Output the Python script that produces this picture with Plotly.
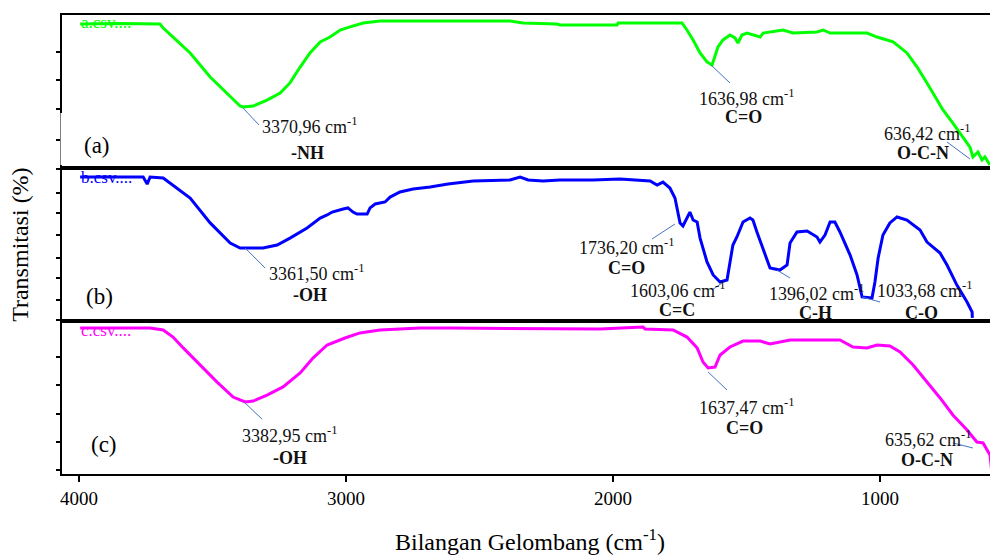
import plotly.graph_objects as go
from plotly.subplots import make_subplots

# ---- data (wavenumber cm-1, relative transmittance) ----
wn_a = [3996, 3850, 3697, 3685, 3648, 3584, 3509, 3446, 3397, 3386, 3348, 3296, 3247, 3210, 3172,
        3135, 3097, 3060, 3022, 2985, 2936, 2873, 2386, 2337, 2210, 2199, 1985, 1981, 1824, 1742,
        1723, 1700, 1674, 1648, 1629, 1607, 1588, 1562, 1543, 1532, 1517, 1498, 1449, 1438, 1363,
        1326, 1236, 1213, 1187, 1049, 1011, 951, 899, 861, 824, 787, 764, 727, 689, 663, 652, 633,
        618, 607, 588]
t_a = [94.1, 94.5, 94.1, 91.5, 85.6, 75.2, 59.5, 49.0, 40.5, 39.9, 40.5, 44.4, 49.0, 55.6, 66.0,
       75.2, 82.4, 85.6, 90.2, 92.2, 94.8, 96.1, 96.1, 94.8, 94.1, 93.5, 93.5, 94.8, 94.8, 94.8,
       90.2, 83.7, 75.2, 69.3, 67.3, 79.1, 83.7, 86.9, 85.0, 81.7, 86.9, 88.2, 85.6, 88.2, 90.2,
       88.2, 88.9, 90.2, 88.2, 88.2, 85.6, 82.4, 75.2, 66.0, 55.6, 44.4, 37.9, 29.4, 20.3, 13.7, 7.2, 10.5,
       5.2, 7.2, 2.0]

wn_b = [3996, 3760, 3745, 3734, 3685, 3648, 3584, 3509, 3434, 3397, 3311, 3258, 3210, 3146, 3097,
        3071, 3060, 3052, 3011, 2993, 2974, 2959, 2921, 2910, 2891, 2854, 2835, 2798, 2749, 2685,
        2618, 2524, 2386, 2348, 2318, 2262, 2199, 2075, 1974, 1861, 1835, 1813, 1787, 1768, 1749,
        1738, 1723, 1712, 1700, 1685, 1674, 1648, 1625, 1599, 1573, 1562, 1551, 1536, 1513, 1487,
        1476, 1461, 1438, 1412, 1375, 1348, 1337, 1311, 1273, 1236, 1225, 1206, 1187, 1169, 1150,
        1112, 1086, 1067, 1030, 1019, 1007, 989, 963, 936, 899, 850, 824, 775, 749, 712, 674, 655, 654]
t_b = [94.1, 94.1, 89.5, 94.1, 93.5, 88.9, 80.4, 64.1, 51.0, 47.7, 47.7, 49.7, 54.2, 60.8, 67.3,
       69.3, 70.6, 71.2, 73.2, 73.9, 71.2, 69.9, 69.9, 73.9, 76.5, 77.8, 81.0, 84.3, 86.3, 87.6,
       89.5, 91.5, 92.2, 94.1, 92.2, 91.5, 92.2, 92.2, 92.8, 91.5, 88.9, 90.8, 86.9, 80.4, 64.1,
       62.1, 67.3, 71.2, 66.0, 64.7, 54.2, 38.6, 30.1, 25.5, 26.8, 39.9, 49.7, 54.9, 64.7, 67.3,
       66.0, 58.2, 47.7, 34.6, 33.3, 36.6, 51.0, 58.2, 58.8, 54.9, 51.6, 56.2, 64.7, 64.7, 58.2,
       43.1, 30.1, 15.7, 15.0, 25.5, 41.2, 56.2, 64.1, 68.0, 66.0, 59.5, 51.6, 44.4, 36.6, 23.5, 12.4, 5.9, 2.0]

wn_c = [3996, 3734, 3685, 3648, 3610, 3547, 3483, 3423, 3378, 3348, 3296, 3236, 3172, 3124, 3071,
        3004, 2948, 2873, 2723, 2610, 2049, 1888, 1880, 1775, 1723, 1685, 1663, 1644, 1618, 1599,
        1562, 1513, 1449, 1412, 1375, 1337, 1150, 1101, 1049, 1011, 963, 925, 876, 824, 775, 727,
        674, 637, 614, 588, 581]
t_c = [95.4, 95.4, 94.1, 89.5, 82.4, 71.2, 60.1, 50.3, 47.1, 47.7, 51.6, 56.9, 66.0, 75.8, 84.3,
       88.9, 92.2, 94.1, 95.4, 95.4, 94.8, 96.1, 94.8, 94.1, 89.5, 82.4, 73.2, 69.3, 69.9, 77.8,
       83.0, 86.9, 86.9, 85.0, 86.3, 87.6, 87.6, 83.0, 82.4, 84.3, 83.7, 79.7, 71.2, 60.1, 49.7, 38.6,
       28.8, 20.9, 20.3, 12.4, 0.7]

series_names = ["a.csv....", "b.csv....", "c.csv...."]
series_colors = ["#00ff00", "#0000ff", "#ff00ff"]
panel_labels = ["(a)", "(b)", "(c)"]
x_ticks = [4000, 3000, 2000, 1000]

# peak annotations: (panel, value label, group label, text pos, group pos, leader line)
peaks = [
    (1, "3370,96", "-NH", (3322, 27.5), (3146, 9.8), (3386, 39.2, 3326, 28.1)),
    (1, "1636,98", "C=O", (1685, 46.4), (1513, 33.3), (1633, 67.3, 1562, 55.6)),
    (1, "636,42", "O-C-N", (993, 23.5), (839, 9.8), (749, 17.0, 663, 5.9)),
    (2, "3361,50", "-OH", (3296, 32.0), (3135, 17.0), (3378, 47.7, 3303, 34.6)),
    (2, "1736,20", "C=O", (2135, 48.4), (1948, 34.6), (1854, 53.6, 1768, 63.4)),
    (2, "1603,06", "C=C", (1944, 20.3), (1760, 7.2), (1629, 20.3, 1592, 24.8)),
    (2, "1396,02", "C-H", (1423, 18.9), (1243, 5.0), (1386, 33.3, 1337, 28.1)),
    (2, "1033,68", "C-O", (1019, 20.3), (843, 5.0), (1067, 15.7, 1000, 12.4)),
    (3, "3382,95", "-OH", (3397, 25.5), (3210, 10.5), (3378, 46.4, 3315, 35.9)),
    (3, "1637,47", "C=O", (1685, 43.8), (1506, 30.1), (1644, 66.7, 1573, 54.9)),
    (3, "635,62", "O-C-N", (989, 22.9), (824, 9.2), (727, 20.3, 652, 17.0)),
]

FONT = "Liberation Serif"

fig = make_subplots(rows=3, cols=1, shared_xaxes=True, vertical_spacing=0)

for i, (wn, t) in enumerate([(wn_a, t_a), (wn_b, t_b), (wn_c, t_c)]):
    fig.add_trace(go.Scatter(x=wn, y=t, mode="lines", name=series_names[i],
                             line=dict(color=series_colors[i], width=3),
                             showlegend=False), row=i + 1, col=1)

fig.update_xaxes(range=[4064, 558], showline=True, mirror=True, linecolor="black",
                 linewidth=2, showgrid=False, zeroline=False, ticks="", showticklabels=False)
fig.update_xaxes(row=3, col=1, ticks="outside", ticklen=6, tickwidth=2, tickcolor="black",
                 tickvals=x_ticks, ticktext=[str(v) for v in x_ticks], showticklabels=True,
                 tickfont=dict(family=FONT, size=19, color="black"))

y_tickvals = [[18.3, 38.6, 57.5, 75.8],
              [0.7, 13.7, 28.1, 41.2, 56.2, 70.6, 83.7, 99.3],
              [2.6, 20.9, 39.2, 58.2, 76.5]]
for r in range(3):
    fig.update_yaxes(row=r + 1, col=1, range=[0, 100], showline=True, linecolor="black",
                     linewidth=2, showgrid=False, zeroline=False, ticks="outside", ticklen=4,
                     tickwidth=1.5, tickcolor="black", tickvals=y_tickvals[r],
                     showticklabels=False)

ann = []
shapes = []
label_pos = [(3933, 15.0), (3925, 15.7), (3906, 19.0)]
name_y = [94.8, 93.5, 94.1]
for r in range(3):
    xr = "x" if r == 0 else f"x{r + 1}"
    yr = "y" if r == 0 else f"y{r + 1}"
    ann.append(dict(x=label_pos[r][0], y=label_pos[r][1], xref=xr, yref=yr, text=panel_labels[r],
                    showarrow=False, xanchor="center", yanchor="middle",
                    font=dict(family=FONT, size=23, color="black")))
    ann.append(dict(x=4000, y=name_y[r], xref=xr, yref=yr, text=series_names[r], showarrow=False,
                    xanchor="left", yanchor="middle",
                    font=dict(family=FONT, size=17, color=series_colors[r])))

for (p, val, grp, tp, gp, ln) in peaks:
    xr = "x" if p == 1 else f"x{p}"
    yr = "y" if p == 1 else f"y{p}"
    ann.append(dict(x=tp[0], y=tp[1], xref=xr, yref=yr, text=f"{val} cm<sup>-1</sup>",
                    showarrow=False, xanchor="left", yanchor="middle",
                    font=dict(family=FONT, size=18, color="#111111")))
    ann.append(dict(x=gp[0], y=gp[1], xref=xr, yref=yr, text=f"<b>{grp}</b>",
                    showarrow=False, xanchor="center", yanchor="middle",
                    font=dict(family=FONT, size=18, color="#111111")))
    shapes.append(dict(type="line", xref=xr, yref=yr, x0=ln[0], y0=ln[1], x1=ln[2], y1=ln[3],
                       line=dict(color="#4472c4", width=1)))

# gap in left axis line of the top panel
shapes.append(dict(type="rect", xref="paper", yref="paper", x0=-0.0016, x1=0.0022,
                   y0=0.673, y1=0.7865, fillcolor="white", line=dict(width=0), layer="above"))

ann.append(dict(x=0.5, y=-0.144, xref="paper", yref="paper",
                text="Bilangan Gelombang (cm<sup>-1</sup>)", showarrow=False,
                xanchor="center", yanchor="middle", font=dict(family=FONT, size=24, color="black")))
ann.append(dict(x=-0.045, y=0.499, xref="paper", yref="paper", text="Transmitasi (%)",
                showarrow=False, textangle=-90, xanchor="center", yanchor="middle",
                font=dict(family=FONT, size=24, color="black")))

# page body adds an 8px offset; size the figure so the plot area lands where the reference has it
fig.update_layout(width=990, height=548, margin=dict(l=54, r=0, t=7, b=82),
                  paper_bgcolor="white", plot_bgcolor="white", annotations=ann, shapes=shapes,
                  font=dict(family=FONT))

fig.write_html("out.html")
